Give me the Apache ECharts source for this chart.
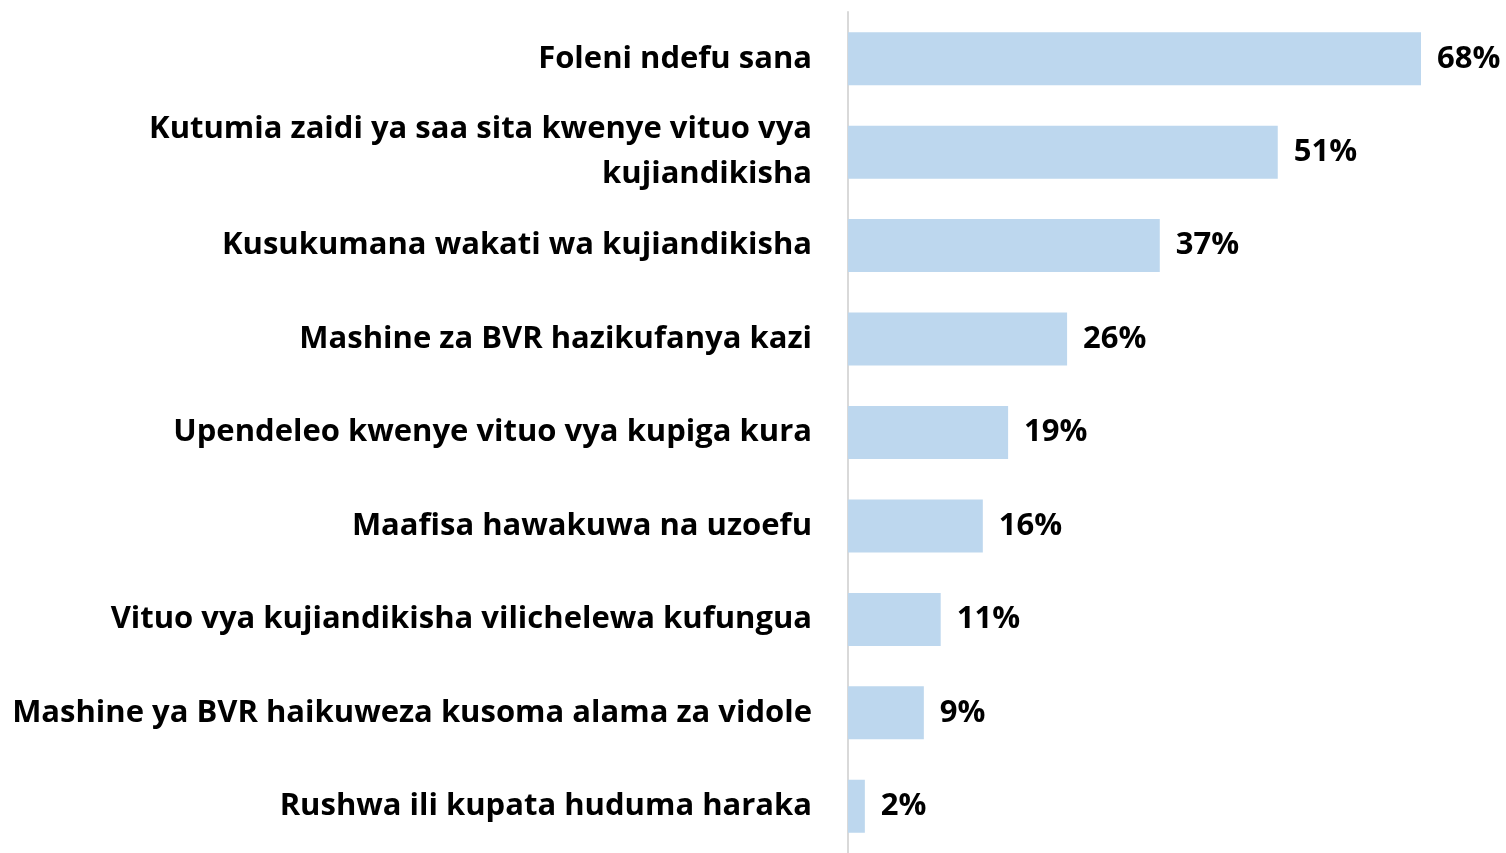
<!DOCTYPE html>
<html>
<head>
<meta charset="utf-8">
<script src="https://cdn.jsdelivr.net/npm/echarts@6/dist/echarts.min.js"></script>
<style>
	html, body { margin: 0; padding: 0; background: #fff; }
	#chart { width: 1506px; height: 853px; }
</style>
</head>
<body>
<div id="chart"></div>
<script>
	const categories = [
		'Foleni ndefu sana',
		'Kutumia zaidi ya saa sita kwenye vituo vya\nkujiandikisha',
		'Kusukumana wakati wa kujiandikisha',
		'Mashine za BVR hazikufanya kazi',
		'Upendeleo kwenye vituo vya kupiga kura',
		'Maafisa hawakuwa na uzoefu',
		'Vituo vya kujiandikisha vilichelewa kufungua',
		'Mashine ya BVR haikuweza kusoma alama za vidole',
		'Rushwa ili kupata huduma haraka'
	]
	const values = [68, 51, 37, 26, 19, 16, 11, 9, 2]

	const chart = echarts.init(document.getElementById('chart'))
	const option = {
		animation: false,
		grid: {
			left: 848,
			right: 85,
			top: 12,
			bottom: -4
		},
		xAxis: {
			type: 'value',
			min: 0,
			max: 68,
			show: false
		},
		yAxis: {
			type: 'category',
			inverse: true,
			data: categories,
			axisTick: { show: false },
			axisLine: {
				show: true,
				lineStyle: { color: '#d9d9d9', width: 2 }
			},
			axisLabel: {
				margin: 36,
				color: '#000',
				fontFamily: 'Open Sans',
				fontWeight: 'bold',
				fontSize: 31,
				lineHeight: 45,
				align: 'right'
			}
		},
		series: [
			{
				type: 'bar',
				data: values,
				barWidth: 53,
				itemStyle: { color: '#bdd7ee' },
				label: {
					show: true,
					position: 'right',
					distance: 16,
					formatter: '{c}%',
					color: '#000',
					fontFamily: 'Open Sans',
					fontWeight: 'bold',
					fontSize: 31
				}
			}
		]
	}
	chart.setOption(option)
	window.addEventListener('resize', function () {
		chart.resize()
	})
</script>
</body>
</html>
